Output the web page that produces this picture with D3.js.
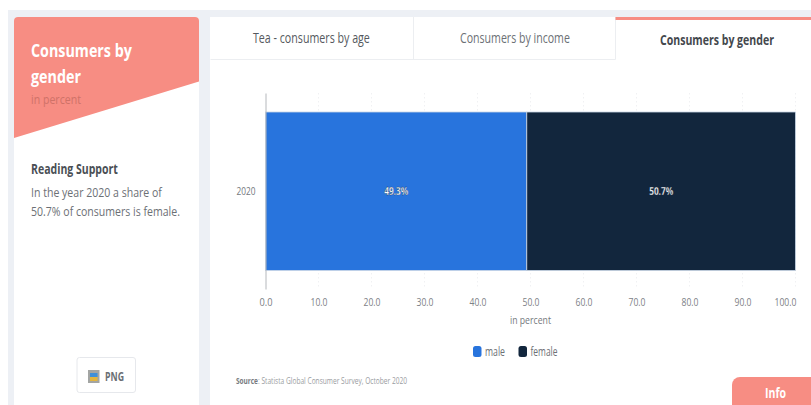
<!DOCTYPE html>
<html>
<head>
<meta charset="utf-8">
<script src="https://cdn.jsdelivr.net/npm/d3@7/dist/d3.min.js"></script>
<style>
html,body{margin:0;padding:0;background:#fff;overflow:hidden}
svg{display:block}
text{font-family:"Open Sans",sans-serif}
</style>
</head>
<body>
<svg id="chart" width="811" height="405"></svg>
<script>
// Chart values
const years = ["2020"];
const seriesNames = ["male", "female"];
const maleValues = [49.3];
const femaleValues = [50.7];
const seriesColors = ["#2874dd", "#12263d"];
const xTicks = [0, 10, 20, 30, 40, 50, 60, 70, 80, 90, 100];
const tabLabels = ["Tea - consumers by age", "Consumers by income", "Consumers by gender"];

const svg = d3.select("#chart");

// Squeezes a text horizontally to a given width around its own anchor point
function fitWidth(node, px, py, width) {
  const natural = node.getComputedTextLength();
  d3.select(node).attr("x", 0).attr("y", 0).attr("dy", 0)
    .attr("transform", `translate(${px},${py}) scale(${width / natural},1)`);
}

function label(x, y, str, size, fill, width, opts = {}) {
  const t = svg.append("text")
    .attr("font-size", size)
    .attr("fill", fill)
    .attr("font-weight", opts.weight || 400)
    .attr("text-anchor", opts.anchor || "start")
    .text(str);
  fitWidth(t.node(), x, y, width);
  return t;
}

// Page panels
svg.append("rect").attr("x", 8).attr("y", 10).attr("width", 803).attr("height", 395).attr("fill", "#edf0f5");

const defs = svg.append("defs");
defs.append("clipPath").attr("id", "cardClip")
  .append("rect").attr("x", 14).attr("y", 17).attr("width", 185).attr("height", 420).attr("rx", 4);

svg.append("rect").attr("x", 14).attr("y", 17).attr("width", 185).attr("height", 420).attr("rx", 4).attr("fill", "#fff");
svg.append("path").attr("clip-path", "url(#cardClip)")
  .attr("d", "M14,17H199V81.5L14,138Z").attr("fill", "#f78d83");

label(31, 57, "Consumers by", 17.5, "#fff", 101, {weight: 700});
label(31, 82.5, "gender", 17.5, "#fff", 50, {weight: 700});
label(31, 104, "in percent", 13, "#cf7268", 50);
label(31, 173.5, "Reading Support", 13.5, "#4a4f55", 87, {weight: 700});
label(31, 197, "In the year 2020 a share of", 13.5, "#6c7075", 131);
label(31, 216, "50.7% of consumers is female.", 13.5, "#6c7075", 149);

// Download button
svg.append("rect").attr("x", 77).attr("y", 357.5).attr("width", 58.5).attr("height", 35)
  .attr("rx", 2.5).attr("fill", "#fff").attr("stroke", "#e6e8ec");
svg.append("rect").attr("x", 88).attr("y", 370).attr("width", 11.5).attr("height", 13).attr("fill", "#a3a5a3");
svg.append("rect").attr("x", 90).attr("y", 373).attr("width", 7.5).attr("height", 4).attr("fill", "#3f8fd8");
svg.append("rect").attr("x", 90).attr("y", 377).attr("width", 7.5).attr("height", 4).attr("fill", "#e2b53f");
label(105, 381, "PNG", 12, "#6a6e73", 19, {weight: 700});

// Main card and tabs
svg.append("rect").attr("x", 210).attr("y", 17).attr("width", 601).attr("height", 388).attr("fill", "#fff");
svg.append("path").attr("d", "M210.5,59.5H615.5M413.5,17V59.5M615.5,17V59.5")
  .attr("fill", "none").attr("stroke", "#eceef1");
svg.append("rect").attr("x", 615.5).attr("y", 17).attr("width", 195.5).attr("height", 3).attr("fill", "#f78d83");
label(253, 43, tabLabels[0], 14.5, "#55595e", 117);
label(460, 43, tabLabels[1], 14.5, "#6c7075", 110);
label(660, 44.5, tabLabels[2], 14.5, "#44484d", 114, {weight: 700});

// Scales
const x = d3.scaleLinear().domain([0, 100]).range([265.5, 795.5]);
const y = d3.scaleBand().domain(years).range([93, 289]);
const barTop = y(years[0]) + 19;
const barHeight = y.bandwidth() - 37.5;

// Dotted vertical grid
svg.append("g").selectAll("line").data(xTicks.slice(1)).join("line")
  .attr("x1", d => x(d)).attr("x2", d => x(d))
  .attr("y1", 93).attr("y2", 289)
  .attr("stroke", "#f0f1f3").attr("stroke-dasharray", "1.5 2.5");

// Stacked bars
const rows = years.map((yr, i) => ({year: yr, male: maleValues[i], female: femaleValues[i]}));
const stacked = d3.stack().keys(seriesNames)(rows);
svg.append("g").selectAll("g").data(stacked).join("g")
  .attr("fill", (d, i) => seriesColors[i])
  .selectAll("rect").data(d => d).join("rect")
  .attr("x", d => x(d[0])).attr("width", d => x(d[1]) - x(d[0]))
  .attr("y", barTop).attr("height", barHeight)
  .attr("stroke", "#c9d6e6").attr("stroke-width", 0.8);

// Value labels in the middle of each segment
svg.append("g").selectAll("text").data(stacked).join("text")
  .attr("text-anchor", "middle")
  .attr("font-size", 11)
  .attr("font-weight", 700)
  .attr("fill", "#fff")
  .attr("stroke", "#1a2a40").attr("stroke-width", 0.3)
  .text(d => d[0].data[d.key].toFixed(1) + "%")
  .each(function (d) { fitWidth(this, x((d[0][0] + d[0][1]) / 2), 195, 24); });

// Axes
const xAxis = d3.axisBottom(x).tickValues(xTicks).tickSize(0).tickPadding(0)
  .tickFormat(d3.format(".1f"));
const gx = svg.append("g").attr("transform", "translate(0,306)").call(xAxis);
gx.select(".domain").remove();
gx.selectAll("text")
  .attr("font-family", "Open Sans")
  .attr("font-size", 11).attr("fill", "#7d8186")
  .each(function (d) {
    // the last label sits left of its tick so it stays inside the plot width
    fitWidth(this, d === 100 ? -10.5 : 0, 0, d === 100 ? 22 : (d === 0 ? 13 : 17));
  });

const yAxis = d3.axisLeft(y).tickSize(0).tickPadding(10);
const gy = svg.append("g").attr("transform", "translate(265.5,0)").call(yAxis);
gy.select(".domain").attr("stroke", "#b5b8bc").attr("stroke-width", 1);
gy.selectAll("text")
  .attr("font-family", "Open Sans").attr("font-size", 10).attr("fill", "#74787d")
  .each(function () { fitWidth(this, -10, 3.5, 19); });

label(530.5, 323.5, "in percent", 11.5, "#74787d", 41, {anchor: "middle"});

// Legend
const legendX = [473, 518.5];
const legendTextW = [20, 27];
seriesNames.forEach((name, i) => {
  svg.append("rect").attr("x", legendX[i]).attr("y", 346).attr("width", 8.5).attr("height", 11)
    .attr("rx", 2.5).attr("fill", seriesColors[i]);
  label(legendX[i] + 12, 356, name, 12, "#6c7075", legendTextW[i]);
});

// Source line
label(236, 384, "Source", 9, "#777b80", 22, {weight: 700});
label(258, 384, ": Statista Global Consumer Survey, October 2020", 9, "#9a9da1", 149.5);

// Info tab
svg.append("path").attr("d", "M732,405V385a8,8 0 0 1 8,-8H811V405Z").attr("fill", "#f78d83");
label(765, 398, "Info", 14, "#fff", 21, {weight: 700});
</script>
</body>
</html>
